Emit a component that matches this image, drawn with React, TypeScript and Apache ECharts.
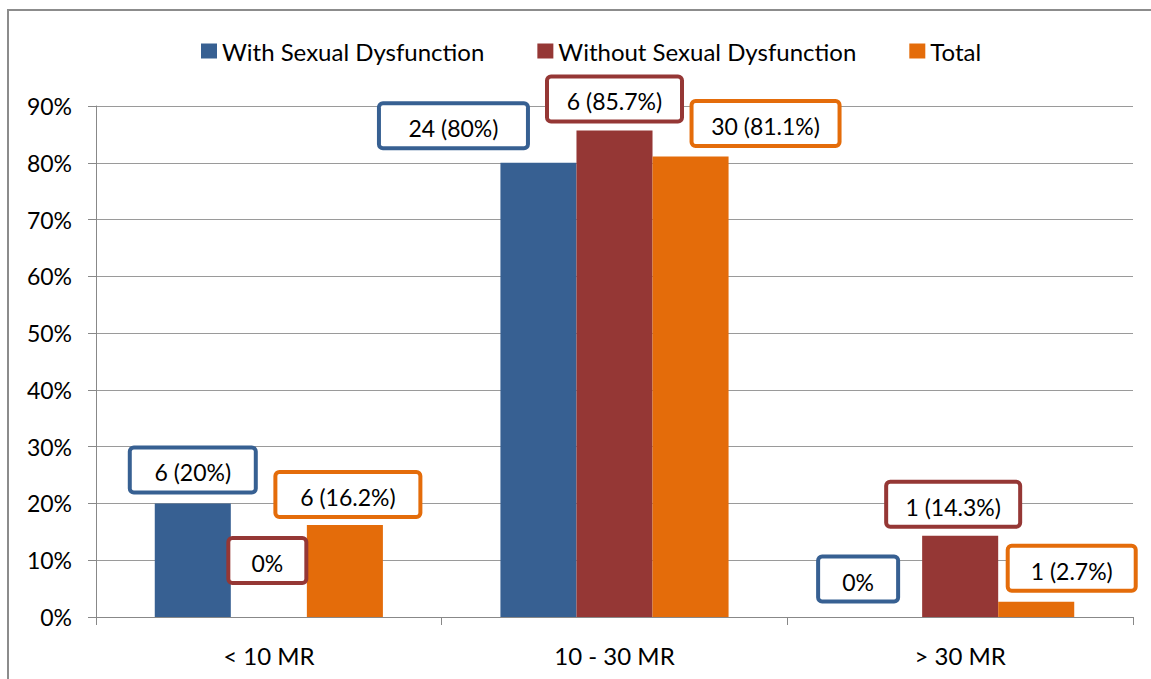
import React, { useEffect, useRef } from "react";
import * as echarts from "echarts";

const categories = ["< 10 MR", "10 - 30 MR", "> 30 MR"];
const seriesNames = ["With Sexual Dysfunction", "Without Sexual Dysfunction", "Total"];
const withPct = [20, 80, 0];
const withoutPct = [0, 85.7, 14.3];
const totalPct = [16.2, 81.1, 2.7];
const withN = [6, 24, 0];
const withoutN = [0, 6, 1];
const totalN = [6, 30, 1];
const yTicks = [0, 10, 20, 30, 40, 50, 60, 70, 80, 90];

const colors = ["#376092", "#953735", "#E46C0A"];
// label box layout (offsets and widths), per series per category
const labelOffsets = [
  [[0, -3.5], [-85, -7], [-26, -8]],
  [[-1.5, -26.5], [0, -1.5], [-7, -1.5]],
  [[3, -0.5], [75, -3], [35.5, -3.5]],
];
const labelWidths = [
  [126, 149, 80],
  [78, 135, 134],
  [145, 148, 128],
];

const FONT = "Lato, 'Open Sans', sans-serif";

function fmt(n: number, p: number) {
  return n === 0 ? "0%" : `${n} (${p}%)`;
}

export default function App() {
  const ref = useRef<HTMLDivElement>(null);
  useEffect(() => {
    if (!ref.current) return;
    const chart = echarts.init(ref.current, null, { renderer: "svg" });
    const pcts = [withPct, withoutPct, totalPct];
    const counts = [withN, withoutN, totalN];
    const series = seriesNames.map((name, si) => ({
      name,
      type: "bar",
      barGap: "0%",
      barCategoryGap: "34%",
      itemStyle: { color: colors[si] },
      data: pcts[si].map((v, ci) => ({
        value: v,
        label: {
          show: true,
          position: "top",
          distance: 9.5,
          formatter: fmt(counts[si][ci], v),
          offset: labelOffsets[si][ci],
          width: labelWidths[si][ci] - 4,
          height: 36,
          lineHeight: 36,
          align: "center",
          padding: [5, 0, 0, 0],
          backgroundColor: "#fff",
          borderColor: colors[si],
          borderWidth: 4,
          borderRadius: 2,
          fontSize: 23,
          fontFamily: FONT,
          color: "#000",
        },
      })),
    }));
    chart.setOption({
      animation: false,
      backgroundColor: "#fff",
      graphic: [
        {
          type: "rect",
          shape: { x: 8, y: 10, width: 1300, height: 800 },
          style: { fill: "none", stroke: "#8c8c8c", lineWidth: 2 },
          silent: true,
        },
      ],
      legend: {
        data: seriesNames,
        left: 196,
        top: 34,
        icon: "rect",
        itemWidth: 16,
        itemHeight: 15,
        itemGap: 53,
        textStyle: { fontSize: 24, fontFamily: FONT, color: "#000" },
      },
      grid: { left: 96, right: 18, top: 106, bottom: 62 },
      xAxis: {
        type: "category",
        data: categories,
        axisLine: { lineStyle: { color: "#888", width: 1 } },
        axisTick: { show: true, length: 8, lineStyle: { color: "#888" } },
        axisLabel: { fontSize: 24, fontFamily: FONT, color: "#000", margin: 26 },
      },
      yAxis: {
        type: "value",
        min: yTicks[0],
        max: yTicks[yTicks.length - 1],
        interval: 10,
        axisLine: { show: true, lineStyle: { color: "#888", width: 1 } },
        axisTick: { show: true, length: 8, lineStyle: { color: "#888" } },
        splitLine: { lineStyle: { color: "#9a9a9a", width: 1 } },
        axisLabel: {
          formatter: "{value}%",
          fontSize: 23,
          fontFamily: FONT,
          color: "#000",
          margin: 24,
        },
      },
      series,
    });
    return () => chart.dispose();
  }, []);
  return (
    <div
      ref={ref}
      style={{ position: "fixed", left: 0, top: 0, width: 1151, height: 679 }}
    />
  );
}
